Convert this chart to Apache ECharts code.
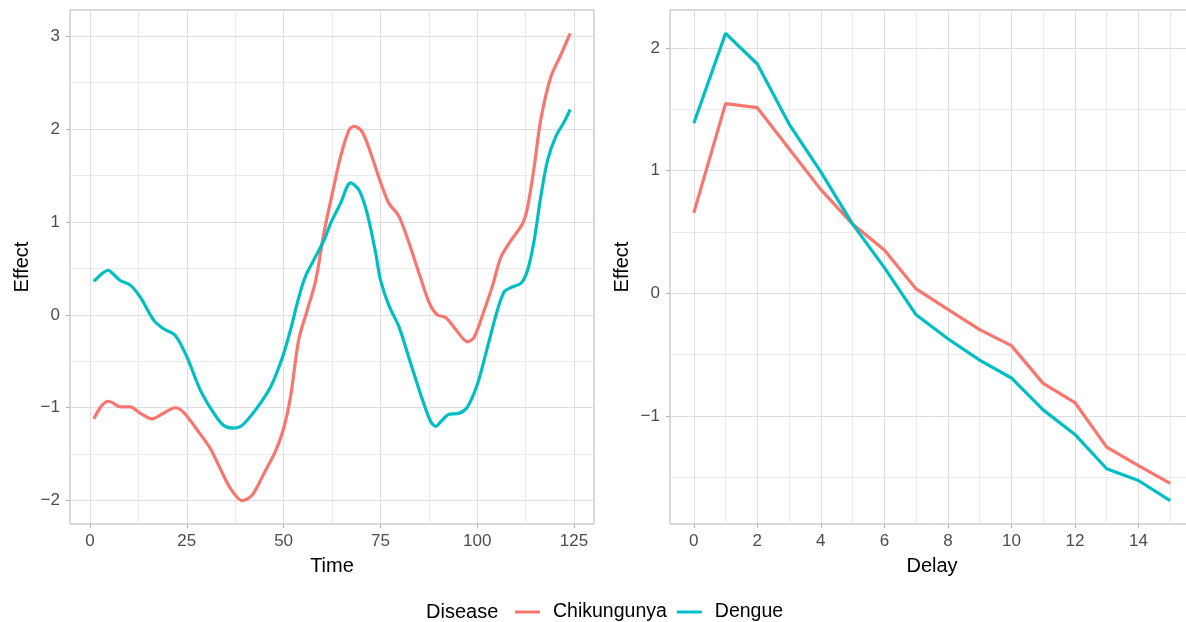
<!DOCTYPE html>
<html>
<head>
<meta charset="utf-8">
<script src="https://cdn.jsdelivr.net/npm/echarts@6/dist/echarts.min.js"></script>
<style>
  html, body { margin: 0; padding: 0; background: #fff; }
  #chart { width: 1186px; height: 622px; }
</style>
</head>
<body>
<div id="chart"></div>
<script>
// 左图：Time 上的效应曲线 [time, effect]
const timeChik = [
  [1, -1.12], [3, -0.98], [4.8, -0.93], [6, -0.95], [7.8, -0.99], [10.4, -0.99],
  [13, -1.06], [16, -1.12], [19, -1.06], [22, -1.0], [24.2, -1.05], [27.7, -1.24],
  [31.1, -1.44], [33.8, -1.67], [36.3, -1.87], [39.3, -2.0], [41.9, -1.94], [44.9, -1.71],
  [48, -1.46], [50.1, -1.21], [51.8, -0.88], [53.9, -0.27], [56.1, 0.05], [58.3, 0.37],
  [60.4, 0.88], [62.6, 1.31], [64.7, 1.70], [66.9, 1.99], [68.2, 2.03], [70.3, 1.97],
  [72.5, 1.74], [75.1, 1.42], [77.2, 1.20], [79.8, 1.06], [82.4, 0.77], [85.2, 0.42],
  [87.6, 0.13], [89.7, 0.0], [91.9, -0.03], [94.5, -0.16], [97.5, -0.29], [99.2, -0.24],
  [101.8, 0.05], [104, 0.32], [106.1, 0.62], [108.7, 0.80], [111.7, 0.98], [113, 1.16],
  [114.7, 1.59], [116.4, 2.10], [119, 2.56], [121.6, 2.80], [124, 3.03]
]
const timeDengue = [
  [1, 0.36], [3, 0.44], [4.7, 0.48], [6, 0.44], [7.8, 0.37], [10.4, 0.32],
  [13, 0.19], [16.5, -0.06], [19, -0.15], [22, -0.22], [25, -0.45], [28.5, -0.81],
  [32, -1.06], [34.5, -1.19], [37, -1.22], [39.3, -1.19], [43, -1.01], [46.6, -0.78],
  [49.6, -0.47], [51.8, -0.16], [54, 0.2], [55.7, 0.42], [57.8, 0.59], [60.4, 0.80],
  [62.1, 0.98], [64.7, 1.20], [67.3, 1.42], [69.5, 1.34], [71.6, 1.09], [73.8, 0.66],
  [75, 0.38], [77.2, 0.10], [79.8, -0.13], [82.8, -0.52], [85.9, -0.92], [88, -1.15],
  [89.3, -1.20], [90.6, -1.15], [92.7, -1.07], [95.3, -1.06], [97.5, -0.99], [100.1, -0.74],
  [102.7, -0.34], [105.2, 0.05], [107, 0.25], [109, 0.30], [111.3, 0.34], [113, 0.48],
  [114.7, 0.80], [116.4, 1.27], [118.2, 1.67], [120.3, 1.92], [122.5, 2.08], [124, 2.21]
]

// 右图：Delay 上的效应
const delays = [0, 1, 2, 3, 4, 5, 6, 7, 8, 9, 10, 11, 12, 13, 14, 15]
const delayChik = [0.656, 1.547, 1.514, 1.18, 0.846, 0.565, 0.353, 0.036, -0.13, -0.296, -0.426, -0.734, -0.89, -1.254, -1.405, -1.55]
const delayDengue = [1.387, 2.12, 1.87, 1.38, 0.99, 0.565, 0.21, -0.175, -0.37, -0.544, -0.69, -0.95, -1.15, -1.43, -1.526, -1.69]

// 刻度
const timeTicks = [0, 25, 50, 75, 100, 125]
const timeMinor = [12.5, 37.5, 62.5, 87.5, 112.5]
const effTicksL = [-2, -1, 0, 1, 2, 3]
const effMinorL = [-1.5, -0.5, 0.5, 1.5, 2.5]
const delayTicks = [0, 2, 4, 6, 8, 10, 12, 14]
const delayMinor = [1, 3, 5, 7, 9, 11, 13, 15]
const effTicksR = [-1, 0, 1, 2]
const effMinorR = [-1.5, -0.5, 0.5, 1.5]

const RED = '#F8766D'
const TEAL = '#00BFC4'
const FONT = 'Liberation Sans, Arial, sans-serif'

// ggplot 风格的范围扩展 5%
const expand = (lo, hi) => {
  const d = (hi - lo) * 0.05
  return [lo - d, hi + d]
}
const allY = (arr) => arr.map(p => p[1])
const xL = expand(1, 124)
const yL = expand(Math.min(...allY(timeChik), ...allY(timeDengue)), Math.max(...allY(timeChik), ...allY(timeDengue)))
const xR = expand(0, 15)
const yR = expand(Math.min(...delayChik, ...delayDengue), Math.max(...delayChik, ...delayDengue))

const minus = (v) => String(v).replace('-', '\u2212')

const makeX = (idx, range, ticks, name) => ({
  type: 'value',
  gridIndex: idx,
  min: range[0],
  max: range[1],
  name: name,
  nameLocation: 'middle',
  nameGap: 32,
  nameTextStyle: { color: '#000', fontSize: 20, fontFamily: FONT },
  axisLine: { show: false, onZero: false },
  axisTick: { show: true, customValues: ticks, length: 4, lineStyle: { color: '#b3b3b3', width: 1 } },
  axisLabel: { customValues: ticks, color: '#4d4d4d', fontSize: 17, fontFamily: FONT, margin: 9, formatter: minus },
  splitLine: { show: false }
})
const makeY = (idx, range, ticks) => ({
  type: 'value',
  gridIndex: idx,
  min: range[0],
  max: range[1],
  name: 'Effect',
  nameLocation: 'middle',
  nameGap: 38,
  nameRotate: 90,
  nameTextStyle: { color: '#000', fontSize: 20, fontFamily: FONT },
  axisLine: { show: false, onZero: false },
  axisTick: { show: true, customValues: ticks, length: 4, lineStyle: { color: '#b3b3b3', width: 1 } },
  axisLabel: { customValues: ticks, color: '#4d4d4d', fontSize: 17, fontFamily: FONT, margin: 10, formatter: minus },
  splitLine: { show: false }
})

// 网格线用 markLine 画在空系列上
const gridSeries = (idx, xMajor, xMinor, yMajor, yMinor) => {
  const major = { color: '#dedede', width: 1, type: 'solid' }
  const minor = { color: '#ebebeb', width: 1, type: 'solid' }
  const data = []
  xMinor.forEach(v => data.push({ xAxis: v, lineStyle: minor }))
  yMinor.forEach(v => data.push({ yAxis: v, lineStyle: minor }))
  xMajor.forEach(v => data.push({ xAxis: v, lineStyle: major }))
  yMajor.forEach(v => data.push({ yAxis: v, lineStyle: major }))
  return {
    type: 'line',
    xAxisIndex: idx,
    yAxisIndex: idx,
    data: [],
    silent: true,
    z: 1,
    markLine: {
      silent: true,
      z: 1,
      symbol: ['none', 'none'],
      label: { show: false },
      emphasis: { disabled: true },
      animation: false,
      data: data
    }
  }
}

const lineSeries = (name, idx, data, color, smooth) => ({
  name: name,
  type: 'line',
  xAxisIndex: idx,
  yAxisIndex: idx,
  data: data,
  smooth: smooth,
  showSymbol: false,
  symbol: 'none',
  z: 3,
  itemStyle: { color: color },
  lineStyle: { color: color, width: 3.2 },
  emphasis: { disabled: true }
})

const chart = echarts.init(document.getElementById('chart'))
chart.setOption({
  animation: false,
  backgroundColor: '#fff',
  textStyle: { fontFamily: FONT },
  title: {
    text: 'Disease',
    left: 426,
    top: 602,
    padding: 0,
    textStyle: { color: '#000', fontSize: 20, fontWeight: 'normal', fontFamily: FONT }
  },
  legend: {
    data: ['Chikungunya', 'Dengue'],
    left: 515,
    top: 602,
    padding: 0,
    icon: 'rect',
    itemWidth: 25,
    itemHeight: 3,
    itemGap: 10,
    selectedMode: false,
    textStyle: { color: '#000', fontSize: 19.5, fontFamily: FONT, padding: [0, 0, 0, 8] }
  },
  grid: [
    { left: 70, top: 10, width: 524, height: 514, show: true, borderColor: '#b3b3b3', borderWidth: 1, backgroundColor: 'transparent', outerBoundsMode: 'none' },
    { left: 670, top: 10, width: 524, height: 514, show: true, borderColor: '#b3b3b3', borderWidth: 1, backgroundColor: 'transparent', outerBoundsMode: 'none' }
  ],
  xAxis: [makeX(0, xL, timeTicks, 'Time'), makeX(1, xR, delayTicks, 'Delay')],
  yAxis: [makeY(0, yL, effTicksL), makeY(1, yR, effTicksR)],
  series: [
    gridSeries(0, timeTicks, timeMinor, effTicksL, effMinorL),
    gridSeries(1, delayTicks, delayMinor, effTicksR, effMinorR),
    lineSeries('Chikungunya', 0, timeChik, RED, 0.3),
    lineSeries('Dengue', 0, timeDengue, TEAL, 0.3),
    lineSeries('Chikungunya', 1, delays.map((d, i) => [d, delayChik[i]]), RED, false),
    lineSeries('Dengue', 1, delays.map((d, i) => [d, delayDengue[i]]), TEAL, false)
  ]
})
</script>
</body>
</html>
